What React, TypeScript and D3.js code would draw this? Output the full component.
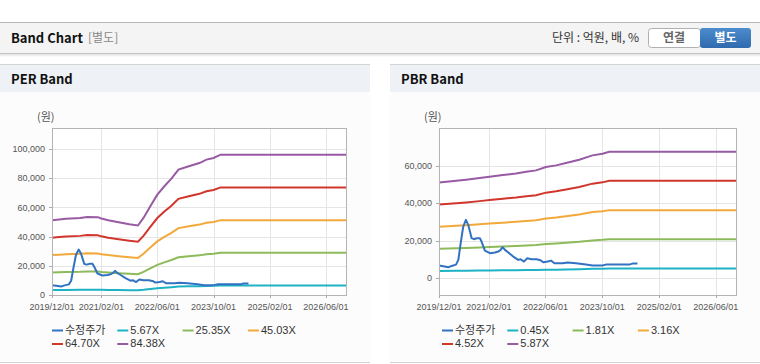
import * as d3 from 'd3';

// 수정주가 (adjusted price), shared by both charts
const priceDates = [
  '2019-12-01', '2020-01-07', '2020-02-19', '2020-03-19', '2020-04-25', '2020-05-15',
  '2020-06-04', '2020-06-26', '2020-07-19', '2020-08-08', '2020-09-06', '2020-09-26',
  '2020-10-19', '2020-11-16', '2020-11-30', '2020-12-29', '2021-02-10', '2021-03-25',
  '2021-04-23', '2021-05-13', '2021-05-30', '2021-06-19', '2021-07-18', '2021-08-29',
  '2021-10-11', '2021-10-31', '2021-11-29', '2021-12-27', '2022-02-02', '2022-03-17',
  '2022-04-20', '2022-05-15', '2022-06-21', '2022-07-19', '2022-08-17', '2022-10-27',
  '2022-12-09', '2023-02-18', '2023-05-15', '2023-07-11', '2023-10-04', '2023-11-02',
  '2024-05-20', '2024-06-17', '2024-07-30',
];
const priceValues = [
  6760, 6400, 5870, 6580, 7290, 9780,
  18670, 27560, 31100, 28450, 21340, 20800,
  21340, 21340, 19560, 14760, 13340, 13690,
  14220, 15110, 16540, 15110, 13690, 11560,
  9780, 10130, 8890, 10670, 10130, 10130,
  9600, 8500, 8890, 9420, 8000, 8000,
  8360, 8000, 7290, 6760, 6760, 7290,
  7290, 7820, 7820,
];

// PER band: EPS base and multiples
const epsDates = [
  '2019-12-01', '2020-02-01', '2020-04-01', '2020-08-01', '2020-10-01', '2021-01-01',
  '2021-02-01', '2021-04-01', '2021-07-01', '2021-10-01', '2021-12-15', '2022-02-01',
  '2022-04-01', '2022-06-01', '2022-08-01', '2022-10-01', '2022-12-01', '2023-03-01',
  '2023-06-01', '2023-08-01', '2023-10-01', '2023-12-01', '2026-12-01',
];
const epsValues = [
  607, 613, 619, 626, 634, 632,
  621, 607, 591, 575, 564, 626,
  721, 815, 883, 945, 1018, 1045,
  1071, 1099, 1112, 1139, 1139,
];
const perMultiples = [5.67, 25.35, 45.03, 64.7, 84.38];
const perLabels = ['5.67X', '25.35X', '45.03X', '64.70X', '84.38X'];

// PBR band: BPS base and multiples
const bpsDates = [
  '2019-12-01', '2020-04-28', '2020-07-21', '2020-11-13', '2021-02-07', '2021-06-01',
  '2021-09-22', '2021-12-19', '2022-03-13', '2022-06-06', '2022-09-01', '2022-11-25',
  '2023-03-18', '2023-07-10', '2023-10-04', '2023-12-01', '2026-12-01',
];
const bpsValues = [
  8693, 8842, 8935, 9087, 9208, 9360,
  9511, 9663, 9784, 10087, 10239, 10450,
  10753, 11146, 11298, 11480, 11480,
];
const pbrMultiples = [0.45, 1.81, 3.16, 4.52, 5.87];
const pbrLabels = ['0.45X', '1.81X', '3.16X', '4.52X', '5.87X'];

const xTickDates = ['2019-12-01', '2021-02-01', '2022-06-01', '2023-10-01', '2025-02-01', '2026-06-01'];
const perYTicks = [0, 20000, 40000, 60000, 80000, 100000];
const pbrYTicks = [0, 20000, 40000, 60000];

const priceColor = '#3272c2';
const bandColors = ['#1db2c4', '#8dba5a', '#f2a93b', '#d1362d', '#985aa3'];

const parse = d3.timeParse('%Y-%m-%d');
const fmtTick = d3.timeFormat('%Y/%m/%d');
const fmtNum = d3.format(',');

type Pt = { date: Date; v: number };

const zip = (ds: string[], vs: number[]): Pt[] => ds.map((d, i) => ({ date: parse(d) as Date, v: vs[i] }));

const AXIS_FONT = "'Liberation Sans', Arial, 'Noto Sans CJK KR', sans-serif";
const KR_FONT = "'Noto Sans CJK KR', 'Liberation Sans', sans-serif";

interface BandProps {
  id: string;
  left: number;
  right: number;
  top: number;
  bottom: number;
  yDomain: [number, number];
  yTicks: number[];
  base: Pt[];
  multiples: number[];
  labels: string[];
  legendX: number;
}

function BandChart({ id, left, right, top, bottom, yDomain, yTicks, base, multiples, labels, legendX }: BandProps) {
  const x = d3.scaleTime()
    .domain([parse('2019-12-01') as Date, parse('2026-12-01') as Date])
    .range([left, right]);
  const y = d3.scaleLinear().domain(yDomain).range([bottom, top]);
  const line = d3.line<Pt>().x(d => x(d.date)).y(d => y(d.v));

  const price = zip(priceDates, priceValues);
  const bands = multiples.map(m => base.map(d => ({ date: d.date, v: d.v * m })));
  const xTicks = xTickDates.map(d => parse(d) as Date);

  const legendItems = [{ label: '수정주가', color: priceColor }].concat(
    labels.map((l, i) => ({ label: l, color: bandColors[i] }))
  );

  return (
    <g>
      <defs>
        <clipPath id={`clip-${id}`}>
          <rect x={left} y={top} width={right - left} height={bottom - top} />
        </clipPath>
      </defs>
      <rect x={left} y={top} width={right - left} height={bottom - top} fill="#fff" />
      {yTicks.map(t => (
        <line key={`gy${t}`} x1={left} x2={right} y1={Math.round(y(t)) + 0.5} y2={Math.round(y(t)) + 0.5} stroke="#e5e5e5" />
      ))}
      {xTicks.map((t, i) => (
        <line key={`gx${i}`} x1={Math.round(x(t)) + 0.5} x2={Math.round(x(t)) + 0.5} y1={top} y2={bottom} stroke="#e5e5e5" />
      ))}
      <text x={left - 15} y={top - 7} fontSize={11} fill="#555" fontFamily={KR_FONT}>(원)</text>
      {yTicks.map(t => (
        <g key={`ty${t}`}>
          <line x1={left - 3} x2={left} y1={Math.round(y(t)) + 0.5} y2={Math.round(y(t)) + 0.5} stroke="#aaa" />
          <text x={left - 7} y={y(t)} dy="0.35em" textAnchor="end" fontSize={9} fill="#555" fontFamily={AXIS_FONT}>
            {fmtNum(t)}
          </text>
        </g>
      ))}
      {xTicks.map((t, i) => (
        <g key={`tx${i}`}>
          <line x1={Math.round(x(t)) + 0.5} x2={Math.round(x(t)) + 0.5} y1={bottom} y2={bottom + 3} stroke="#aaa" />
          <text x={x(t)} y={bottom + 12} dy="0.35em" textAnchor="middle" fontSize={9} fill="#555" fontFamily={AXIS_FONT}>
            {fmtTick(t)}
          </text>
        </g>
      ))}
      <g clipPath={`url(#clip-${id})`}>
        {bands.map((b, i) => (
          <path key={`b${i}`} d={line(b) || ''} fill="none" stroke={bandColors[i]} strokeWidth={2} />
        ))}
        <path d={line(price) || ''} fill="none" stroke={priceColor} strokeWidth={2} strokeLinejoin="round" />
      </g>
      <rect x={left + 0.5} y={top + 0.5} width={right - left - 1} height={bottom - top} fill="none" stroke="#b4b4b4" />
      {legendItems.map((it, i) => {
        const lx = legendX + (i % 4) * 65.3;
        const ly = 330 + Math.floor(i / 4) * 13.5;
        return (
          <g key={`lg${i}`}>
            <line x1={lx} x2={lx + 11} y1={ly + 0.5} y2={ly + 0.5} stroke={it.color} strokeWidth={2} />
            <text x={lx + 13} y={ly} dy="0.36em" fontSize={11} fill="#333"
              fontFamily={i === 0 ? KR_FONT : AXIS_FONT}>{it.label}</text>
          </g>
        );
      })}
    </g>
  );
}

export default function App() {
  const eps = zip(epsDates, epsValues);
  const bps = zip(bpsDates, bpsValues);
  return (
    <div style={{ position: 'absolute', left: 0, top: 0, width: 760, height: 364, background: '#fff' }}>
      <svg width={760} height={364} style={{ display: 'block' }}>
        <defs>
          <linearGradient id="btnBlue" x1="0" x2="0" y1="0" y2="1">
            <stop offset="0%" stopColor="#4c8ccd" />
            <stop offset="100%" stopColor="#2f6aae" />
          </linearGradient>
          <linearGradient id="hdrShadow" x1="0" x2="0" y1="0" y2="1">
            <stop offset="0%" stopColor="#000" stopOpacity={0.12} />
            <stop offset="100%" stopColor="#000" stopOpacity={0} />
          </linearGradient>
        </defs>
        {/* header bar */}
        <rect x={0} y={22} width={760} height={31} fill="#f4f4f4" />
        <line x1={0} x2={760} y1={22.5} y2={22.5} stroke="#b8b8b8" />
        <line x1={0} x2={760} y1={53.5} y2={53.5} stroke="#c4c4c4" />
        <rect x={0} y={54} width={760} height={3} fill="url(#hdrShadow)" />
        <text x={11} y={38} dy="0.35em" fontSize={13} fontWeight="bold" fill="#111" fontFamily={KR_FONT}>Band Chart</text>
        <text x={88} y={38} dy="0.35em" fontSize={12} fill="#888" fontFamily={KR_FONT}>[별도]</text>
        <text x={552} y={38} dy="0.35em" fontSize={12} fill="#333" fontFamily={KR_FONT}>단위 : 억원, 배, %</text>
        <rect x={648.5} y={28.5} width={52} height={19} rx={3} fill="#fff" stroke="#b0b0b0" />
        <text x={674} y={38} dy="0.35em" textAnchor="middle" fontSize={12} fontWeight="bold" fill="#666" fontFamily={KR_FONT}>연결</text>
        <rect x={700} y={28} width={51} height={20} rx={3} fill="url(#btnBlue)" />
        <text x={725.5} y={38} dy="0.35em" textAnchor="middle" fontSize={12} fontWeight="bold" fill="#fff" fontFamily={KR_FONT}>별도</text>

        {/* panels */}
        {[{ x: 0, w: 370, title: 'PER Band' }, { x: 390, w: 370, title: 'PBR Band' }].map(p => (
          <g key={p.title}>
            <rect x={p.x} y={64} width={p.w} height={299} fill="#fcfcfc" />
            <rect x={p.x} y={64} width={p.w} height={28} fill="#eef1f6" />
            <line x1={p.x} x2={p.x + p.w} y1={64.5} y2={64.5} stroke="#d4d4d4" />
            <line x1={p.x} x2={p.x + p.w} y1={362.5} y2={362.5} stroke="#d4d4d4" />
            <text x={p.x + 11} y={79} dy="0.35em" fontSize={13} fontWeight="bold" fill="#111" fontFamily={KR_FONT}>{p.title}</text>
          </g>
        ))}

        <BandChart id="per" left={52} right={347} top={128} bottom={295}
          yDomain={[0, 114400]} yTicks={perYTicks} base={eps}
          multiples={perMultiples} labels={perLabels} legendX={52} />
        <BandChart id="pbr" left={439} right={737} top={128} bottom={295}
          yDomain={[-8900, 80000]} yTicks={pbrYTicks} base={bps}
          multiples={pbrMultiples} labels={pbrLabels} legendX={442} />
      </svg>
    </div>
  );
}
